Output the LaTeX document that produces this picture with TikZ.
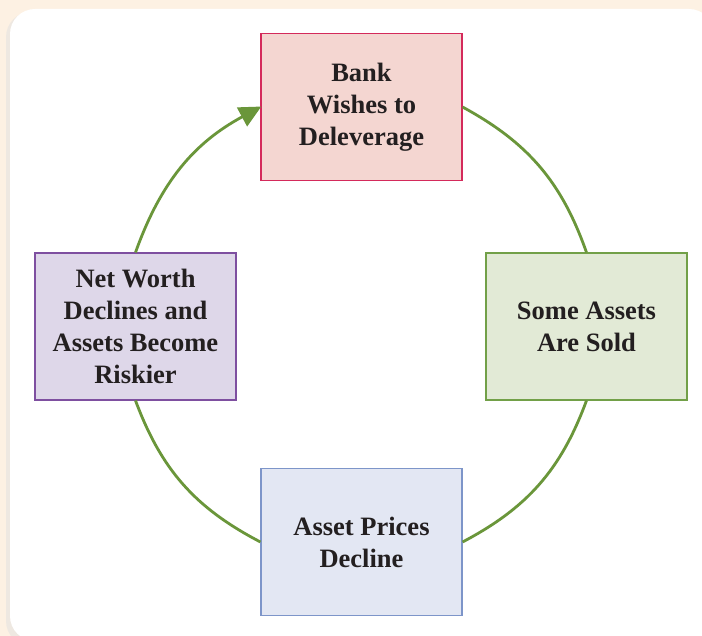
\documentclass[tikz,border=0pt]{standalone}
\usepackage{fontspec}
\setmainfont{Liberation Serif}
\usetikzlibrary{arrows.meta}
\definecolor{bgpeach}{HTML}{FDF1E3}
\definecolor{txt}{HTML}{231F20}
\definecolor{arcgreen}{HTML}{6A963A}
\definecolor{redfill}{HTML}{F4D6D1}
\definecolor{reddraw}{HTML}{D42A5B}
\definecolor{greenfill}{HTML}{E2EAD6}
\definecolor{greendraw}{HTML}{72A048}
\definecolor{bluefill}{HTML}{E3E7F3}
\definecolor{bluedraw}{HTML}{7D95C9}
\definecolor{purplefill}{HTML}{DED7E9}
\definecolor{purpledraw}{HTML}{7E4FA0}
\tikzset{
  stagebox/.style={rectangle, minimum width=201pt, minimum height=147pt, line width=1.1pt,
    align=center, text=txt, inner sep=0pt,
    font=\bfseries\fontsize{26.5}{32}\selectfont},
  cyc/.style={draw=arcgreen, line width=2.8pt},
}
\begin{document}
\begin{tikzpicture}[x=1pt,y=-1pt]
\useasboundingbox (0,0) rectangle (702,636);
\fill[bgpeach] (0,0) rectangle (702,636);
\fill[black!12, opacity=0.5, rounded corners=25pt] (6,12) rectangle (716,646);
\fill[white, rounded corners=25pt] (10,9) rectangle (714,641);
\node[stagebox, fill=redfill, draw=reddraw] (bank) at (361.5,107) {Bank\\Wishes to\\Deleverage};
\node[stagebox, fill=greenfill, draw=greendraw] (sold) at (586.5,326.5) {Some Assets\\Are Sold};
\node[stagebox, fill=bluefill, draw=bluedraw] (price) at (361.5,542) {Asset Prices\\Decline};
\node[stagebox, fill=purplefill, draw=purpledraw] (worth) at (135.5,326.5) {Net Worth\\Declines and\\Assets Become\\Riskier};
\draw[cyc] (bank.east) to[bend left=21] (sold.north);
\draw[cyc] (sold.south) to[bend left=21] (price.east);
\draw[cyc] (price.west) to[bend left=21] (worth.south);
\draw[cyc, -{Triangle[length=22pt,width=21pt]}, shorten >=-1pt] (worth.north) to[bend left=21] (bank.west);
\end{tikzpicture}
\end{document}
